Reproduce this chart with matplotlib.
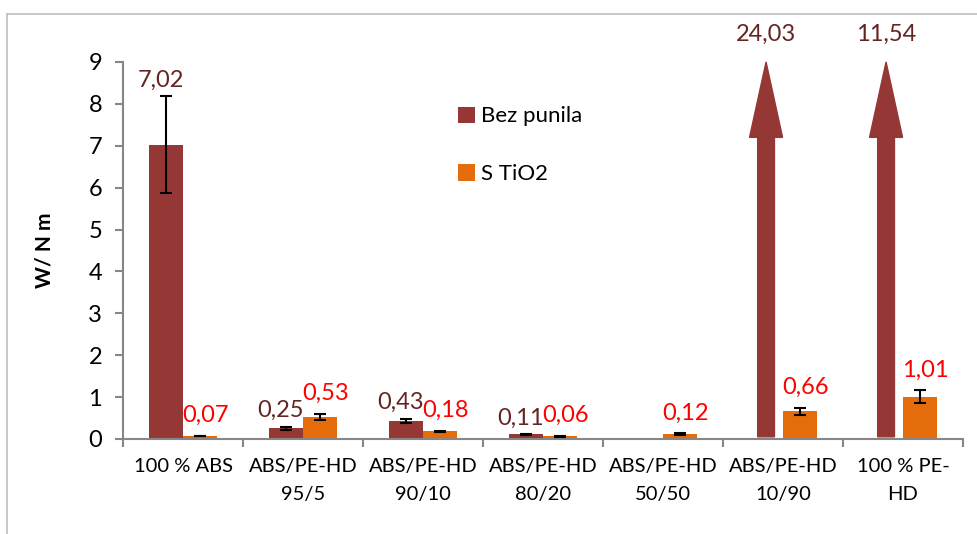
import numpy as np
import matplotlib
matplotlib.use('Agg')
from matplotlib import pyplot as plt
from matplotlib.patches import FancyArrow
from matplotlib.lines import Line2D

categories = ['100 % ABS', 'ABS/PE-HD\n95/5', 'ABS/PE-HD\n90/10', 'ABS/PE-HD\n80/20',
			  'ABS/PE-HD\n50/50', 'ABS/PE-HD\n10/90', '100 % PE-\nHD']
bez_punila = [7.02, 0.25, 0.43, 0.11, np.nan, 24.03, 11.54]
bez_punila_err = [1.16, 0.04, 0.05, 0.01, np.nan, np.nan, np.nan]
s_tio2 = [0.07, 0.53, 0.18, 0.06, 0.12, 0.66, 1.01]
s_tio2_err = [0.01, 0.07, 0.02, 0.01, 0.02, 0.09, 0.15]
series_names = ['Bez punila', 'S TiO2']
y_max = 9

col_bez = '#953735'
col_tio2 = '#E46C0A'
lab_bez = '#632523'
lab_tio2 = '#FF0000'
axis_col = '#868686'

plt.rcParams['font.family'] = ['Lato', 'DejaVu Sans']

fig = plt.figure(figsize=(9.78, 5.34), dpi=100)
ax = fig.add_axes([0.1258, 0.178, 0.8589, 0.706])

# outer chart frame
fig.add_artist(Line2D([0.0072, 0.0072], [0, 0.974], color='#BFBFBF', lw=1.2, transform=fig.transFigure))
fig.add_artist(Line2D([0.0072, 1], [0.974, 0.974], color='#BFBFBF', lw=1.2, transform=fig.transFigure))

x = np.arange(len(categories))
w = 0.283
xb = x - w / 2
xt = x + w / 2

bez = np.array(bez_punila)
bez_in = np.where(bez <= y_max, bez, np.nan)
ax.bar(xb, bez_in, w, color=col_bez, label=series_names[0], zorder=2)
ax.bar(xt, s_tio2, w, color=col_tio2, label=series_names[1], zorder=2)

ax.errorbar(xb, bez_in, yerr=bez_punila_err, fmt='none', ecolor='black', elinewidth=1.5,
			capsize=4, capthick=1.5, zorder=3)
ax.errorbar(xt, s_tio2, yerr=s_tio2_err, fmt='none', ecolor='black', elinewidth=1.5,
			capsize=4, capthick=1.5, zorder=3)

# values that run off the scale: arrows
for xi, v in zip(xb, bez):
	if np.isnan(v):
		continue
	if v > y_max:
		ax.add_patch(FancyArrow(xi, 0.05, 0, y_max - 0.05, width=0.14, head_width=0.275,
								head_length=1.8, length_includes_head=True,
								color=col_bez, zorder=2, clip_on=False))
		ax.annotate(('%.2f' % v).replace('.', ','), (xi, y_max), xytext=(0, 12),
					textcoords='offset points', ha='center', va='bottom',
					color=lab_bez, fontsize=17, annotation_clip=False)

for xi, v, e in zip(xb, bez, bez_punila_err):
	if np.isnan(v) or v > y_max:
		continue
	ax.annotate(('%.2f' % v).replace('.', ','), (xi, v + e), xytext=(-4, 4),
				textcoords='offset points', ha='center', va='bottom',
				color=lab_bez, fontsize=17)

for xi, v, e in zip(xt, s_tio2, s_tio2_err):
	ax.annotate(('%.2f' % v).replace('.', ','), (xi, v + e), xytext=(4, 7),
				textcoords='offset points', ha='center', va='bottom',
				color=lab_tio2, fontsize=17)

ax.set_xlim(-0.5, len(categories) - 0.5)
ax.set_ylim(0, y_max)
ax.set_yticks(range(0, y_max + 1))
ax.set_xticks(x)
ax.set_xticklabels(categories, fontsize=14.5, linespacing=1.75)
ax.set_xticks(np.arange(-0.5, len(categories)), minor=True)
ax.tick_params(axis='x', which='major', length=0, pad=14)
ax.tick_params(axis='x', which='minor', length=6, width=1.5, color=axis_col, direction='out')
ax.tick_params(axis='y', length=6, width=1.5, color=axis_col, labelsize=17, pad=9)

for s in ['top', 'right']:
	ax.spines[s].set_visible(False)
for s in ['left', 'bottom']:
	ax.spines[s].set_color(axis_col)
	ax.spines[s].set_linewidth(1.5)

ax.set_ylabel('W/ N m', fontsize=15, fontweight='bold', labelpad=24)

ax.legend(loc='upper left', bbox_to_anchor=(0.375, 0.935), frameon=False, fontsize=16,
		  handlelength=0.75, handleheight=0.75, handletextpad=0.3, labelspacing=1.7)

plt.savefig('out.png', dpi=100)
